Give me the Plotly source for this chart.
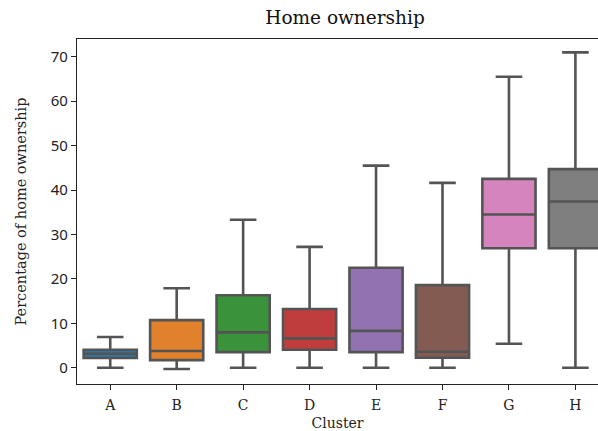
import plotly.graph_objects as go

# Cluster labels and per-cluster box statistics (percentage of home ownership)
clusters = ["A", "B", "C", "D", "E", "F", "G", "H"]
lower = [0.0, -0.3, 0.0, 0.0, 0.0, 0.0, 5.4, 0.0]
q1 = [2.2, 1.7, 3.5, 4.05, 3.5, 2.25, 26.9, 26.9]
median = [3.15, 3.75, 7.95, 6.6, 8.3, 3.6, 34.5, 37.4]
q3 = [4.05, 10.7, 16.3, 13.2, 22.5, 18.6, 42.5, 44.7]
upper = [6.9, 17.9, 33.3, 27.2, 45.5, 41.6, 65.5, 71.0]

colors = ["#3274a1", "#e1812c", "#3a923a", "#c03d3e",
          "#9372b2", "#845b53", "#d684bd", "#7f7f7f"]
y_ticks = [0, 10, 20, 30, 40, 50, 60, 70]

line_col = "#545454"
serif = "DejaVu Serif, serif"
sans = "Noto Sans, Open Sans, DejaVu Sans, sans-serif"

fig = go.Figure()
for i, c in enumerate(clusters):
    fig.add_trace(go.Box(
        x=[c],
        q1=[q1[i]], median=[median[i]], q3=[q3[i]],
        lowerfence=[lower[i]], upperfence=[upper[i]],
        fillcolor=colors[i],
        line=dict(color=line_col, width=2.6),
        width=0.8,
        whiskerwidth=0.5,
        boxpoints=False,
        showlegend=False,
    ))

fig.update_layout(
    width=598, height=431,
    margin=dict(l=77, r=0, t=39, b=47),
    plot_bgcolor="white", paper_bgcolor="white",
    boxmode="overlay",
    title=dict(text="Home ownership", x=345 / 598, xref="container",
               xanchor="center", y=1 - 18 / 431, yref="container", yanchor="middle",
               font=dict(family=serif, size=18.5, color="#111")),
)
fig.update_xaxes(
    type="category", categoryorder="array", categoryarray=clusters,
    range=[-0.5, 7.34],
    showline=True, linecolor="#222", linewidth=1.3, mirror=True,
    ticks="outside", ticklen=5, tickcolor="#222", tickwidth=1.2,
    ticklabelstandoff=3,
    showgrid=False, zeroline=False,
    tickfont=dict(family=serif, size=14, color="#222"),
    title=dict(text="Cluster", font=dict(family=serif, size=14, color="#222"), standoff=6),
)
fig.update_yaxes(
    range=[-3.67, 74.0],
    tickvals=y_ticks,
    showline=True, linecolor="#222", linewidth=1.3, mirror=False,
    ticks="outside", ticklen=5, tickcolor="#222", tickwidth=1.2,
    showgrid=False, zeroline=False,
    tickfont=dict(family=sans, size=15, color="#222"),
    title=dict(text="Percentage of home ownership",
               font=dict(family=serif, size=14.5, color="#222"), standoff=20),
)

fig.write_html("out.html")
